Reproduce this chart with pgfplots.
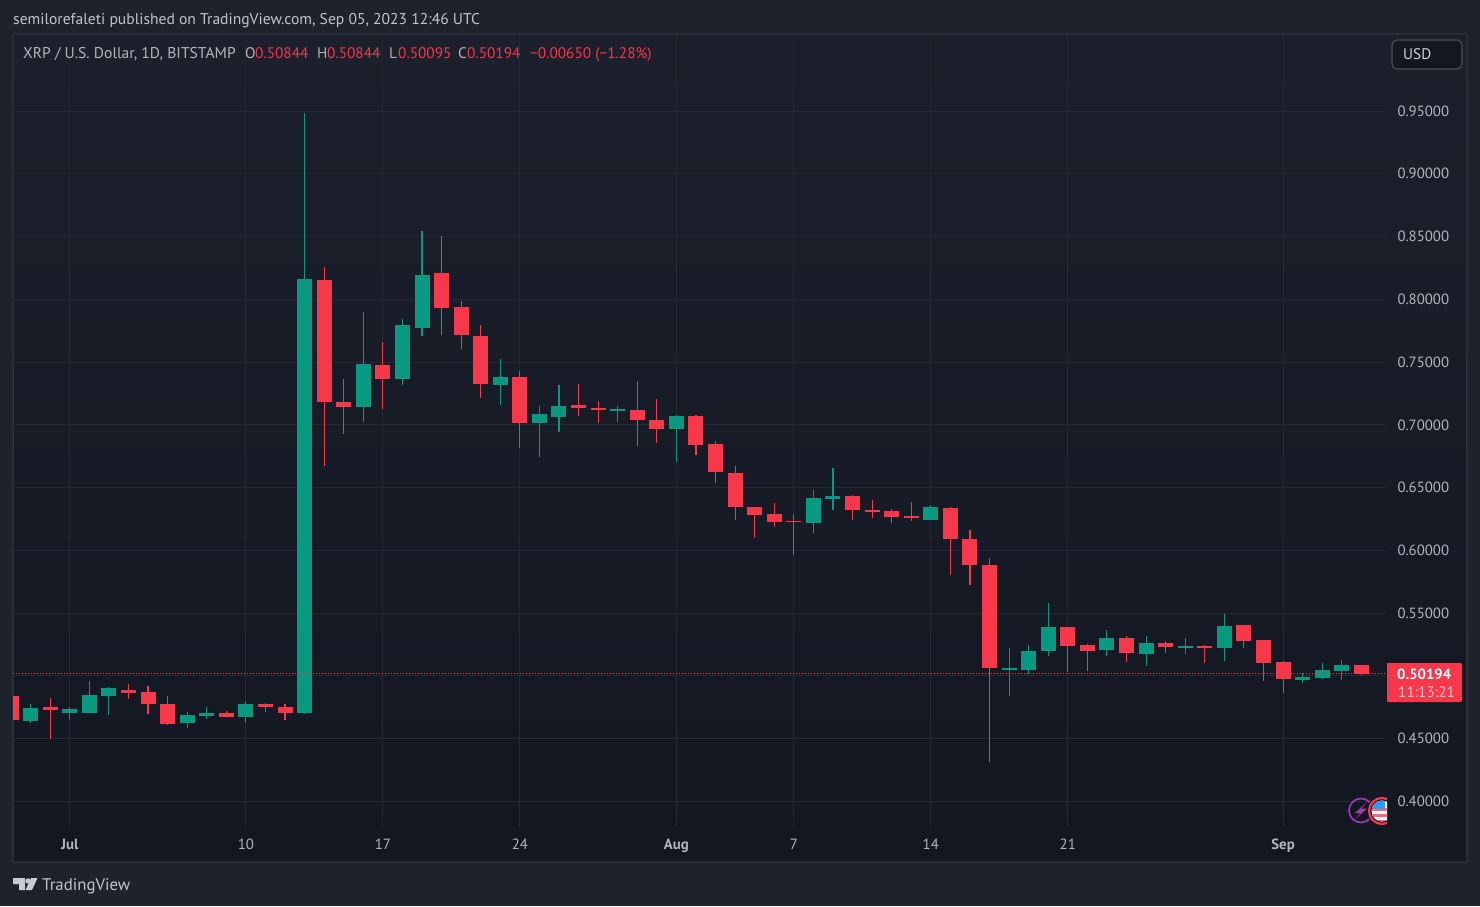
\documentclass[border=0pt]{standalone}
\usepackage{pgfplots}
\usepackage{pgfplotstable}
\pgfplotsset{compat=1.18}
\usepackage{fontspec}
\setmainfont{PT Sans}
\definecolor{outerbg}{HTML}{1E222D}
\definecolor{panetop}{HTML}{1C202C}
\definecolor{panebot}{HTML}{131722}
\definecolor{paneline}{HTML}{2A2E39}
\definecolor{gridc}{HTML}{252833}
\definecolor{txt}{HTML}{B2B5BE}
\definecolor{grn}{HTML}{089981}
\definecolor{redc}{HTML}{F7374A}
\definecolor{purp}{HTML}{9C3CB4}
\pgfplotstableread{
d o h l c
-2 .4641 .4777 .4625 .4745
0 .4705 .4753 .4649 .4737
1 .4705 .4960 .4705 .4848
2 .4840 .4912 .4689 .4904
6 .4625 .4713 .4585 .4689
7 .4681 .4753 .4657 .4705
9 .4673 .4801 .4625 .4777
12 .4705 .9484 .4697 .8162
15 .7142 .7899 .7023 .7485
17 .7365 .7843 .7318 .7796
18 .7772 .8544 .7708 .8194
22 .7318 .7525 .7158 .7381
24 .7015 .7150 .6744 .7087
25 .7063 .7318 .6943 .7150
28 .7111 .7150 .7023 .7127
31 .6967 .7079 .6704 .7071
38 .6218 .6481 .6139 .6418
39 .6410 .6656 .6322 .6433
44 .6242 .6362 .6242 .6346
48 .5048 .5223 .4840 .5063
49 .5048 .5247 .5016 .5199
50 .5199 .5581 .5159 .5390
53 .5207 .5366 .5159 .5302
55 .5175 .5318 .5079 .5263
57 .5223 .5302 .5175 .5239
59 .5223 .5494 .5119 .5398
63 .4968 .5024 .4944 .4992
64 .4984 .5103 .4976 .5048
65 .5040 .5127 .4968 .5087
}\upcandles
\pgfplotstableread{
d o h l c
-3 .4840 .4840 .4649 .4649
-1 .4753 .4825 .4498 .4729
3 .4888 .4936 .4816 .4864
4 .4872 .4920 .4697 .4777
5 .4777 .4840 .4609 .4617
8 .4705 .4721 .4673 .4673
10 .4777 .4785 .4713 .4753
11 .4753 .4777 .4649 .4705
13 .8154 .8258 .6672 .7182
14 .7182 .7365 .6927 .7142
16 .7477 .7660 .7127 .7365
19 .8210 .8505 .7716 .7931
20 .7939 .7987 .7604 .7716
21 .7708 .7796 .7214 .7326
23 .7381 .7429 .6816 .7015
26 .7158 .7326 .7071 .7134
27 .7134 .7190 .7015 .7119
29 .7119 .7349 .6832 .7039
30 .7039 .7206 .6856 .6967
32 .7071 .7079 .6760 .6840
33 .6848 .6872 .6537 .6625
34 .6617 .6672 .6242 .6346
35 .6346 .6346 .6099 .6282
36 .6290 .6378 .6187 .6226
37 .6234 .6290 .5964 .6226
40 .6433 .6441 .6242 .6322
41 .6322 .6402 .6258 .6306
42 .6314 .6330 .6218 .6266
43 .6274 .6386 .6234 .6258
45 .6338 .6346 .5804 .6091
46 .6091 .6163 .5725 .5884
47 .5884 .5940 .4315 .5063
51 .5390 .5390 .5032 .5239
52 .5247 .5255 .5040 .5199
54 .5302 .5318 .5111 .5183
56 .5263 .5279 .5183 .5231
58 .5239 .5247 .5103 .5223
60 .5406 .5406 .5223 .5279
61 .5287 .5287 .4960 .5103
62 .5111 .5119 .4864 .4976
66 .50844 .50844 .50095 .50194
}\downcandles
\begin{document}
\begin{tikzpicture}
\useasboundingbox (0,0) rectangle (1480pt,906pt);
\begin{scope}[x=1pt,y=-1pt,yshift=906pt]
\fill[outerbg] (0,0) rectangle (1480,906);
\shade[top color=panetop,bottom color=panebot] (13,35) rectangle (1466,861);
\draw[paneline,line width=2pt] (12.5,34.5) rectangle (1466.5,861.5);
\end{scope}
\begin{axis}[
  at={(13pt,79pt)},anchor=south west,
  scale only axis,width=1374pt,height=792pt,
  xmin=-2.8999,xmax=67.3096,ymin=0.37969,ymax=1.01056,
  axis line style={draw=none},
  major tick length=0pt,
  grid=major,
  grid style={gridc,line width=1pt},
  xtick={0,9,16,23,31,37,44,51,62},
  xticklabels={\textbf{Jul},10,17,24,\textbf{Aug},7,14,21,\textbf{Sep}},
  ytick={0.40,0.45,0.50,0.55,0.60,0.65,0.70,0.75,0.80,0.85,0.90,0.95},
  yticklabels={0.40000,0.45000,,0.55000,0.60000,0.65000,0.70000,0.75000,0.80000,0.85000,0.90000,0.95000},
  yticklabel pos=right,
  tick label style={txt,font=\fontsize{14.8}{16}\selectfont},
  yticklabel style={anchor=west,xshift=7pt},
  xticklabel style={anchor=base,yshift=-22pt},
]
\addplot[draw=none,mark=none,forget plot,error bars/.cd,y dir=both,y explicit,error mark=none,
  error bar style={draw=grn,solid,line width=1.1pt,line cap=butt}]
  table[x=d,y=o,y error plus expr=\thisrow{h}-\thisrow{o},y error minus expr=\thisrow{o}-\thisrow{l}] {\upcandles};
\addplot[draw=none,mark=none,forget plot,error bars/.cd,y dir=plus,y explicit,error mark=none,
  error bar style={draw=grn,solid,line width=15pt,line cap=butt}]
  table[x=d,y=o,y error plus expr=\thisrow{c}-\thisrow{o}] {\upcandles};
\addplot[draw=none,mark=none,forget plot,error bars/.cd,y dir=both,y explicit,error mark=none,
  error bar style={draw=redc,solid,line width=1.1pt,line cap=butt}]
  table[x=d,y=o,y error plus expr=\thisrow{h}-\thisrow{o},y error minus expr=\thisrow{o}-\thisrow{l}] {\downcandles};
\addplot[draw=none,mark=none,forget plot,error bars/.cd,y dir=minus,y explicit,error mark=none,
  error bar style={draw=redc,solid,line width=15pt,line cap=butt}]
  table[x=d,y=o,y error minus expr=\thisrow{o}-\thisrow{c}] {\downcandles};
\addplot[redc,line width=0.8pt,dash pattern=on 1pt off 2pt,forget plot] coordinates {(-2.8999,0.50194) (67.3096,0.50194)};
\end{axis}
\begin{scope}[x=1pt,y=-1pt,yshift=906pt]
\tikzset{t/.style={anchor=base west,inner sep=0pt,font=\fontsize{15.6}{17}\selectfont},
  n/.style={anchor=base west,inner sep=0pt,font=\fontsize{15.3}{17}\selectfont}}
\node[t,text=txt!80!white] at (13,24.5) {semilorefaleti published on TradingView.com, Sep 05, 2023 12:46 UTC};
\node[t,text=txt] at (23,59) {XRP / U.S. Dollar, 1D, BITSTAMP};
\node[n,text=txt] at (245,59) {O};
\node[n,text=redc] at (255,59) {0.50844};
\node[n,text=txt] at (317,59) {H};
\node[n,text=redc] at (327,59) {0.50844};
\node[n,text=txt] at (389,59) {L};
\node[n,text=redc] at (398,59) {0.50095};
\node[n,text=txt] at (458,59) {C};
\node[n,text=redc] at (467,59) {0.50194};
\node[n,text=redc] at (530,59) {−0.00650 (−1.28\%)};
% USD button
\draw[fill=panebot,draw=paneline!85!white,line width=1.2pt,rounded corners=5pt] (1392,40) rectangle (1462,69);
\node[n,text=txt!60!white] at (1403,60) {USD};
% last price tag
\fill[redc,rounded corners=1.5pt] (1387,663) rectangle (1462,702);
\fill[redc] (1387,663) rectangle (1392,702);
\node[n,text=white,font=\fontsize{14.8}{16}\selectfont\bfseries] at (1397,679) {0.50194};
\node[n,text=white!70!redc] at (1398,697) {11:13:21};
% event icons
\draw[purp,line width=1.7pt] (1361,810.5) circle (12);
\fill[purp] (1367,802)--(1355,813)--(1360.5,813)--(1355.5,819)--(1367,808.5)--(1361.5,808.5)--cycle;
\begin{scope}
\clip (1340,790) rectangle (1387,830);
\fill[panebot] (1382,811) circle (15);
\begin{scope}
\clip (1382,811) circle (10.5);
\fill[white!90!pink] (1368,798) rectangle (1396,824);
\fill[redc!75!white] (1368,808) rectangle (1396,811);
\fill[redc!75!white] (1368,814) rectangle (1396,817);
\fill[redc!75!white] (1368,820) rectangle (1396,824);
\fill[blue!50!cyan!80!white] (1368,799) rectangle (1385,809);
\end{scope}
\draw[redc,line width=2.2pt] (1382,811) circle (13);
\end{scope}
% logo
\fill[txt!70!white] (13,878) -- (25,878) -- (25,890) -- (19,890) -- (19,884) -- (13,884) -- cycle;
\fill[txt!70!white] (28,881) circle (2.7);
\fill[txt!70!white] (31,878) -- (37.5,878) -- (32,890) -- (25.5,890) -- cycle;
\node[t,text=txt!80!white,font=\fontsize{16.8}{18}\selectfont] at (42,890) {TradingView};
\end{scope}
\end{tikzpicture}
\end{document}
